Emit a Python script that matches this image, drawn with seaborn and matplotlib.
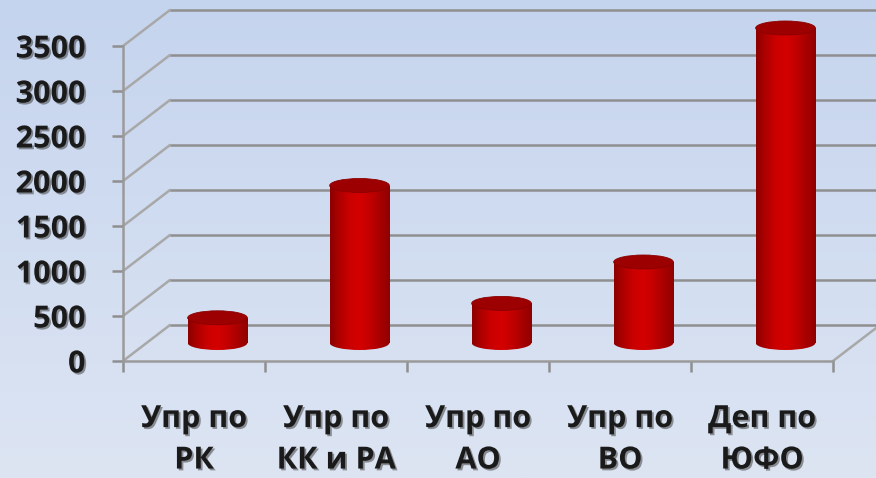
import numpy as np
import pandas as pd
import matplotlib
matplotlib.use("Agg")
import matplotlib.pyplot as plt
import seaborn as sns
from matplotlib.patches import Ellipse
from matplotlib.colors import LinearSegmentedColormap
from matplotlib.lines import Line2D
import matplotlib.patheffects as pe

# ---- data ----
categories = ["Упр по\nРК", "Упр по\nКК и РА", "Упр по\nАО", "Упр по\nВО", "Деп по\nЮФО"]
values = [280, 1750, 440, 900, 3500]
y_ticks = [0, 500, 1000, 1500, 2000, 2500, 3000, 3500]
y_labels = [str(t) for t in y_ticks]

sns.set_theme(style="white")
plt.rcParams['font.family'] = ['Open Sans', 'DejaVu Sans']

W, H = 876, 478
fig = plt.figure(figsize=(W / 100, H / 100), dpi=100)


def rect(x_left, y_zero, w, h):
    return [x_left / W, (H - y_zero) / H, w / W, h / H]


PW, PH = 710, 315        # plane size (px)
FX, FY = 123, 361        # front plane origin (px, top-down)
DX, DY = 47, 36          # depth offset front -> back (px)
EPX = 14                 # ellipse height (px)
GRID = '#8f8f8f'
DIAG = '#a8a8a8'
TXT = '#1a1a1a'
shadow = [pe.withSimplePatchShadow(offset=(1.3, -1.3), shadow_rgbFace='#444444', alpha=0.55)]

# background gradient
bg = fig.add_axes([0, 0, 1, 1], zorder=0)
cm_bg = LinearSegmentedColormap.from_list('bg', ['#c5d4ee', '#dde5f3'])
bg.imshow(np.linspace(0, 1, 256).reshape(-1, 1), aspect='auto', cmap=cm_bg,
          extent=[0, 1, 0, 1], origin='upper')
bg.axis('off')

# back wall
axb = fig.add_axes(rect(FX + DX, FY - DY, PW, PH), zorder=1)
axb.patch.set_alpha(0)
axb.set_xlim(-0.5, 4.5)
axb.set_ylim(0, 3500)
axb.set_yticks(y_ticks)
axb.set_xticks([])
axb.tick_params(left=False, labelleft=False, bottom=False, labelbottom=False)
axb.grid(axis='y', color=GRID, lw=1.8)
axb.grid(axis='x', visible=False)
for gl in axb.get_ygridlines():
    gl.set_clip_on(False)
for s in axb.spines.values():
    s.set_visible(False)

# front plane (axis, labels)
axf = fig.add_axes(rect(FX, FY, PW, PH), zorder=2)
axf.patch.set_alpha(0)
axf.set_xlim(-0.5, 4.5)
axf.set_ylim(0, 3500)
axf.set_yticks(y_ticks)
axf.set_yticklabels(y_labels)
axf.set_xticks(range(len(categories)))
axf.set_xticklabels(categories)
axf.set_xticks(np.arange(-0.5, len(categories), 1), minor=True)
axf.grid(False)
axf.tick_params(axis='x', which='major', length=0, pad=31, labelsize=22, labelcolor=TXT, bottom=True)
axf.tick_params(axis='x', which='minor', length=8, width=1.8, color=GRID, direction='out', bottom=True)
axf.tick_params(axis='y', length=8, width=1.8, color=GRID, direction='out', left=True,
                pad=19, labelsize=22, labelcolor=TXT)
for s in ['top', 'right']:
    axf.spines[s].set_visible(False)
for s in ['left', 'bottom']:
    axf.spines[s].set_color('#9a9a9a')
    axf.spines[s].set_linewidth(1.8)
for lbl in axf.get_xticklabels() + axf.get_yticklabels():
    lbl.set_fontweight('bold')
    lbl.set_path_effects(shadow)
for lbl in axf.get_xticklabels():
    lbl.set_linespacing(1.5)

# depth diagonals
to_fig = fig.transFigure.inverted()


def diag(x, v):
    p0 = axf.transData.transform((x, v))
    p1 = p0 + np.array([DX, DY])
    q = to_fig.transform(np.array([p0, p1]))
    fig.add_artist(Line2D(q[:, 0], q[:, 1], transform=fig.transFigure,
                          color=DIAG, lw=1.8, zorder=1.5))


for v in y_ticks:
    diag(-0.5, v)
diag(4.5, 0)

# bars in the middle plane (axes extended below zero so bottom caps fit)
eh = EPX * 3500 / PH
axm = fig.add_axes(rect(FX + DX / 2, FY - DY / 2 + EPX, PW, PH + EPX), zorder=3)
df = pd.DataFrame({'cat': categories, 'val': values})
sns.barplot(data=df, x='cat', y='val', ax=axm, width=0.42, color='#c00000',
            saturation=1, edgecolor='none')

cm_bar = LinearSegmentedColormap.from_list(
    'cyl', ['#8c0000', '#b00000', '#cc0000', '#d40000', '#c20000', '#a80000', '#900000'])
grad = np.linspace(0, 1, 256).reshape(1, -1)
for p in list(axm.patches):
    x0, w, h = p.get_x(), p.get_width(), p.get_height()
    cx = x0 + w / 2
    im = axm.imshow(grad, extent=[x0, x0 + w, 0, h], cmap=cm_bar, aspect='auto', zorder=2)
    im.set_clip_path(p)
    e_bot = Ellipse((cx, 0), w, eh, facecolor='none', edgecolor='none')
    axm.add_patch(e_bot)
    im2 = axm.imshow(grad, extent=[x0, x0 + w, -eh / 2, eh / 2], cmap=cm_bar, aspect='auto', zorder=1.9)
    im2.set_clip_path(e_bot)
    e_top = Ellipse((cx, h), w, eh, facecolor='#9c0000', edgecolor='#8a0000', lw=0.6,
                    zorder=4, clip_on=False)
    axm.add_patch(e_top)

axm.set_xlim(-0.5, 4.5)
axm.set_ylim(-eh, 3500)
axm.axis('off')

fig.savefig('out.png', dpi=100)
